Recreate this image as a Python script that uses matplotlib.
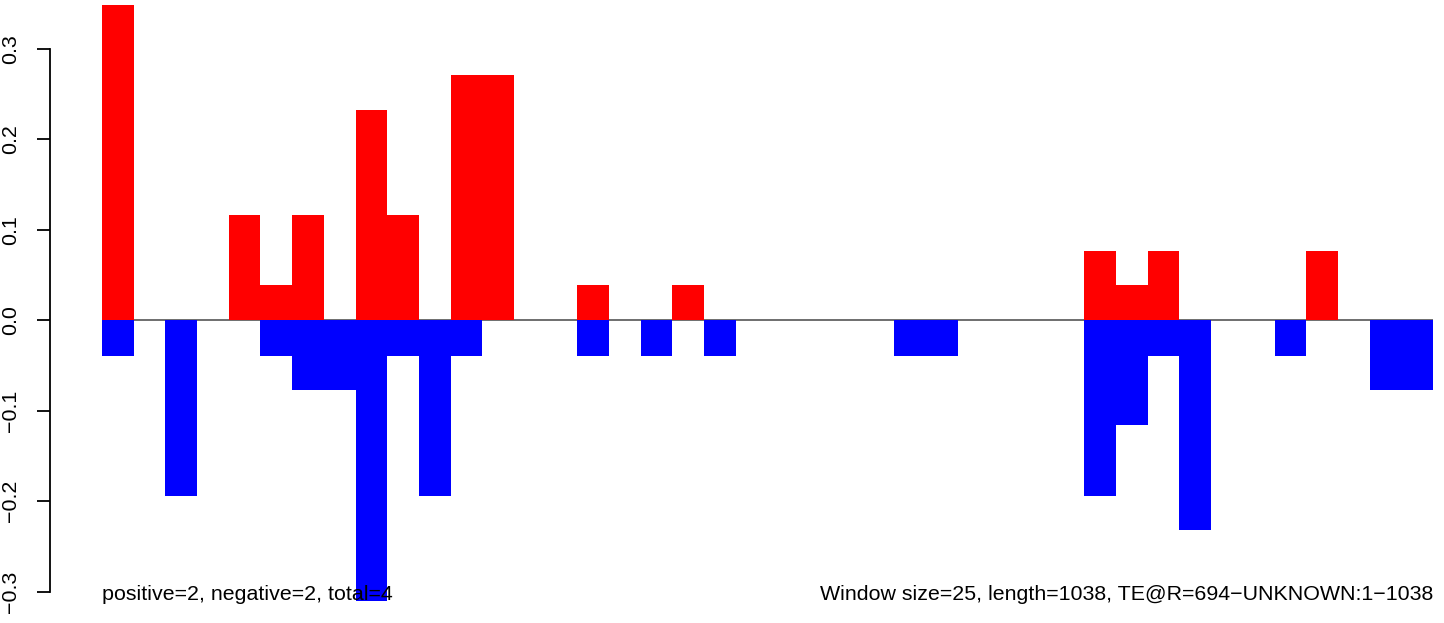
import numpy as np
import matplotlib
matplotlib.use("Agg")
import matplotlib.pyplot as plt

plt.rcParams["font.family"] = ["Liberation Sans", "DejaVu Sans"]

ROJO = "#ff0000"
AZUL = "#0000ff"

# ventanas de 25 pb a lo largo de 1038 pb (42 ventanas)
n_ventanas = 42

# valores positivos por ventana (indice de ventana, valor)
pos_idx = [0, 4, 5, 6, 8, 9, 11, 12, 15, 18, 31, 32, 33, 38]
pos_val = [0.348, 0.116, 0.039, 0.116, 0.232, 0.116, 0.271, 0.271,
           0.039, 0.039, 0.077, 0.039, 0.077, 0.077]

# valores negativos por ventana
neg_idx = [0, 2, 5, 6, 7, 8, 9, 10, 11, 15, 17, 19, 25, 26,
           31, 32, 33, 34, 37, 40, 41]
neg_val = [-0.039, -0.194, -0.039, -0.077, -0.077, -0.310, -0.039, -0.194,
           -0.039, -0.039, -0.039, -0.039, -0.039, -0.039,
           -0.194, -0.116, -0.039, -0.232, -0.039, -0.077, -0.077]

yticks = [-0.3, -0.2, -0.1, 0.0, 0.1, 0.2, 0.3]
ytick_labels = ["\u22120.3", "\u22120.2", "\u22120.1", "0.0", "0.1", "0.2", "0.3"]

texto_izq = "positive=2, negative=2, total=4"
texto_der = "Window size=25, length=1038, TE@R=694\u2212UNKNOWN:1\u22121038"

FS = 15.4

fig = plt.figure(figsize=(14.44, 6.23), dpi=100)
ax = fig.add_axes([102 / 1444, 0, (1433 - 102) / 1444, 1])

ax.axhline(0, color="#555555", linewidth=1.2, zorder=1)
ax.bar(pos_idx, pos_val, width=1, align="edge", color=ROJO, linewidth=0, zorder=2)
ax.bar(neg_idx, neg_val, width=1, align="edge", color=AZUL, linewidth=0, zorder=2)

ax.set_xlim(0, n_ventanas)
ax.set_ylim(-0.3345, 0.354)

# eje y estilo R: separado del area y acotado a los ticks
for lado in ["top", "right", "bottom"]:
    ax.spines[lado].set_visible(False)
ax.spines["left"].set_position(("outward", 52 * 0.72))
ax.spines["left"].set_bounds(-0.3, 0.3)
ax.spines["left"].set_linewidth(1.3)
ax.set_xticks([])
ax.set_yticks(yticks)
ax.set_yticklabels(ytick_labels, rotation=90, va="center", fontsize=FS)
ax.tick_params(axis="y", length=9.5, width=1.3, pad=12)

ax.text(0, -0.309, texto_izq, ha="left", va="baseline", fontsize=FS, zorder=3)
ax.text(n_ventanas, -0.309, texto_der, ha="right", va="baseline", fontsize=FS, zorder=3)

fig.savefig("out.png", dpi=100)
